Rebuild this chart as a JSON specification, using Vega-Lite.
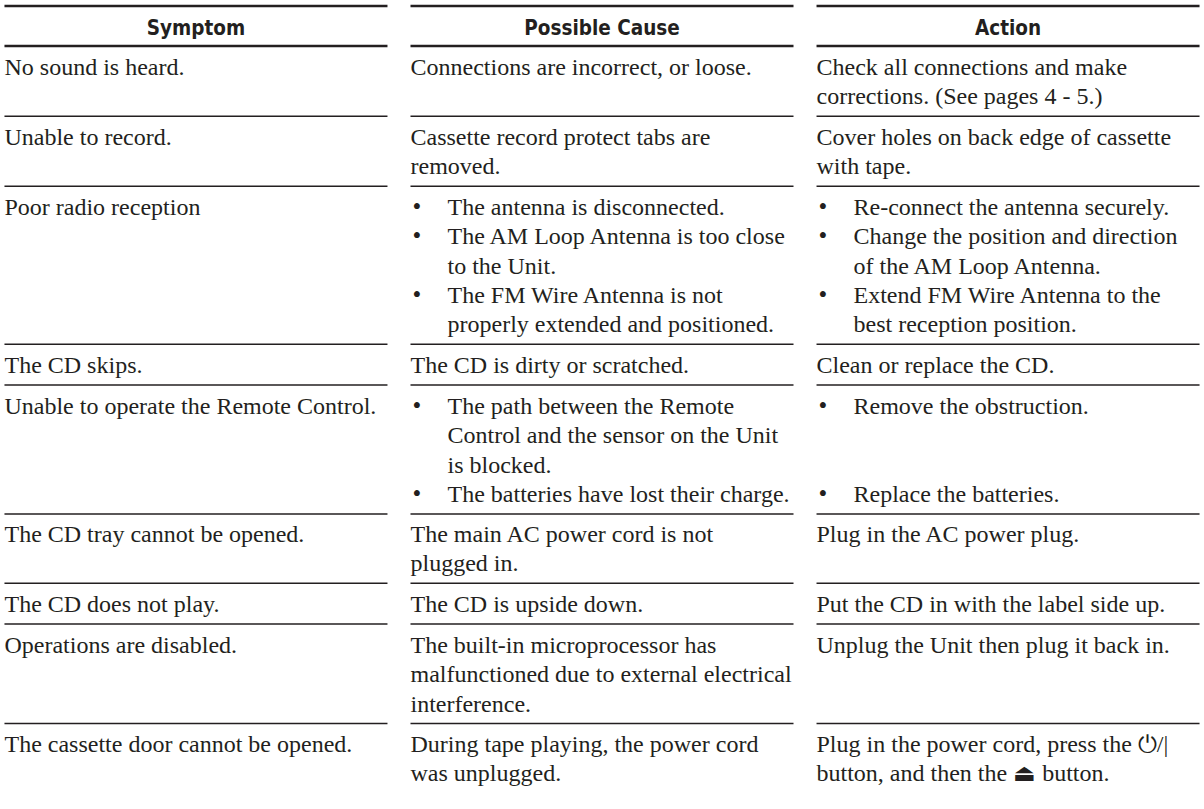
{
  "$schema": "https://vega.github.io/schema/vega-lite/v6.json",
  "padding": {"top": 4, "left": 0, "right": 0, "bottom": 0},
  "background": "white",
  "config": {"view": {"stroke": null}, "facet": {"spacing": 0}},
  "data": {"values": [
    {"row": 0, "col": "Symptom", "line": 1, "text": "Symptom"},
    {"row": 0, "col": "Possible Cause", "line": 1, "text": "Possible Cause"},
    {"row": 0, "col": "Action", "line": 1, "text": "Action"},
    {"row": 1, "col": "Symptom", "line": 1, "text": "No sound is heard."},
    {"row": 1, "col": "Possible Cause", "line": 1, "text": "Connections are incorrect, or loose."},
    {"row": 1, "col": "Action", "line": 1, "text": "Check all connections and make"},
    {"row": 1, "col": "Action", "line": 2, "text": "corrections. (See pages 4 - 5.)"},
    {"row": 2, "col": "Symptom", "line": 1, "text": "Unable to record."},
    {"row": 2, "col": "Possible Cause", "line": 1, "text": "Cassette record protect tabs are"},
    {"row": 2, "col": "Possible Cause", "line": 2, "text": "removed."},
    {"row": 2, "col": "Action", "line": 1, "text": "Cover holes on back edge of cassette"},
    {"row": 2, "col": "Action", "line": 2, "text": "with tape."},
    {"row": 3, "col": "Symptom", "line": 1, "text": "Poor radio reception"},
    {"row": 3, "col": "Possible Cause", "line": 1, "text": "The antenna is disconnected.", "list": true, "bullet": true},
    {"row": 3, "col": "Possible Cause", "line": 2, "text": "The AM Loop Antenna is too close", "list": true, "bullet": true},
    {"row": 3, "col": "Possible Cause", "line": 3, "text": "to the Unit.", "list": true},
    {"row": 3, "col": "Possible Cause", "line": 4, "text": "The FM Wire Antenna is not", "list": true, "bullet": true},
    {"row": 3, "col": "Possible Cause", "line": 5, "text": "properly extended and positioned.", "list": true},
    {"row": 3, "col": "Action", "line": 1, "text": "Re-connect the antenna securely.", "list": true, "bullet": true},
    {"row": 3, "col": "Action", "line": 2, "text": "Change the position and direction", "list": true, "bullet": true},
    {"row": 3, "col": "Action", "line": 3, "text": "of the AM Loop Antenna.", "list": true},
    {"row": 3, "col": "Action", "line": 4, "text": "Extend FM Wire Antenna to the", "list": true, "bullet": true},
    {"row": 3, "col": "Action", "line": 5, "text": "best reception position.", "list": true},
    {"row": 4, "col": "Symptom", "line": 1, "text": "The CD skips."},
    {"row": 4, "col": "Possible Cause", "line": 1, "text": "The CD is dirty or scratched."},
    {"row": 4, "col": "Action", "line": 1, "text": "Clean or replace the CD."},
    {"row": 5, "col": "Symptom", "line": 1, "text": "Unable to operate the Remote Control."},
    {"row": 5, "col": "Possible Cause", "line": 1, "text": "The path between the Remote", "list": true, "bullet": true},
    {"row": 5, "col": "Possible Cause", "line": 2, "text": "Control and the sensor on the Unit", "list": true},
    {"row": 5, "col": "Possible Cause", "line": 3, "text": "is blocked.", "list": true},
    {"row": 5, "col": "Possible Cause", "line": 4, "text": "The batteries have lost their charge.", "list": true, "bullet": true},
    {"row": 5, "col": "Action", "line": 1, "text": "Remove the obstruction.", "list": true, "bullet": true},
    {"row": 5, "col": "Action", "line": 4, "text": "Replace the batteries.", "list": true, "bullet": true},
    {"row": 6, "col": "Symptom", "line": 1, "text": "The CD tray cannot be opened."},
    {"row": 6, "col": "Possible Cause", "line": 1, "text": "The main AC power cord is not"},
    {"row": 6, "col": "Possible Cause", "line": 2, "text": "plugged in."},
    {"row": 6, "col": "Action", "line": 1, "text": "Plug in the AC power plug."},
    {"row": 7, "col": "Symptom", "line": 1, "text": "The CD does not play."},
    {"row": 7, "col": "Possible Cause", "line": 1, "text": "The CD is upside down."},
    {"row": 7, "col": "Action", "line": 1, "text": "Put the CD in with the label side up."},
    {"row": 8, "col": "Symptom", "line": 1, "text": "Operations are disabled."},
    {"row": 8, "col": "Possible Cause", "line": 1, "text": "The built-in microprocessor has"},
    {"row": 8, "col": "Possible Cause", "line": 2, "text": "malfunctioned due to external electrical"},
    {"row": 8, "col": "Possible Cause", "line": 3, "text": "interference."},
    {"row": 8, "col": "Action", "line": 1, "text": "Unplug the Unit then plug it back in."},
    {"row": 9, "col": "Symptom", "line": 1, "text": "The cassette door cannot be opened."},
    {"row": 9, "col": "Possible Cause", "line": 1, "text": "During tape playing, the power cord"},
    {"row": 9, "col": "Possible Cause", "line": 2, "text": "was unplugged."},
    {"row": 9, "col": "Action", "line": 1, "text": "Plug in the power cord, press the  \u23fb/|"},
    {"row": 9, "col": "Action", "line": 2, "text": "button, and then the \u23cf button."}
  ]},
  "facet": {"row": {"field": "row", "type": "ordinal", "header": null}},
  "resolve": {"scale": {"y": "independent"}},
  "spacing": {"row": 0},
  "bounds": "flush",
  "spec": {
    "width": 1204,
    "height": {"step": 29.3},
    "encoding": {
      "x": {"field": "col", "type": "nominal", "bandPosition": 0,
        "scale": {"domain": ["Symptom", "Possible Cause", "Action"], "paddingInner": 0.0567, "paddingOuter": 0.011},
        "axis": null},
      "y": {"field": "line", "type": "ordinal", "scale": {"type": "point", "padding": 0.6826}, "axis": null}
    },
    "layer": [
      {
        "transform": [{"filter": "datum.row == 0"}],
        "mark": {"type": "text", "align": "center", "baseline": "alphabetic", "dy": 9, "font": "DejaVu Sans Condensed, Liberation Sans Narrow, sans-serif", "fontWeight": "bold", "fontSize": 20.5, "color": "#231f20"},
        "encoding": {
          "x": {"field": "col", "type": "nominal", "bandPosition": 0.5},
          "text": {"field": "text"}
        }
      },
      {
        "transform": [{"filter": "datum.row > 0 && !datum.list"}],
        "mark": {"type": "text", "align": "left", "baseline": "alphabetic", "dy": 8, "font": "Liberation Serif", "fontSize": 24, "color": "#231f20"},
        "encoding": {"text": {"field": "text"}}
      },
      {
        "transform": [{"filter": "datum.row > 0 && datum.list"}],
        "mark": {"type": "text", "align": "left", "baseline": "alphabetic", "dy": 8, "dx": 37, "font": "Liberation Serif", "fontSize": 24, "color": "#231f20"},
        "encoding": {"text": {"field": "text"}}
      },
      {
        "transform": [{"filter": "datum.bullet"}],
        "mark": {"type": "text", "align": "left", "baseline": "alphabetic", "dy": 8, "dx": 2, "font": "Liberation Serif", "fontSize": 25, "color": "#231f20", "text": "\u2022"}
      },
      {
        "transform": [
          {"filter": "datum.row != 9"},
          {"aggregate": [{"op": "count", "as": "n"}], "groupby": ["row", "col"]}
        ],
        "mark": {"type": "rule", "color": "#231f20"},
        "encoding": {
          "y": {"value": "height"},
          "x2": {"field": "col", "bandPosition": 1},
          "strokeWidth": {"condition": {"test": "datum.row == 0", "value": 2.6}, "value": 1.5}
        }
      },
      {
        "transform": [
          {"filter": "datum.row == 0"},
          {"aggregate": [{"op": "count", "as": "n"}], "groupby": ["row", "col"]}
        ],
        "mark": {"type": "rule", "color": "#231f20", "strokeWidth": 2.6},
        "encoding": {
          "y": {"value": 0},
          "x2": {"field": "col", "bandPosition": 1}
        }
      }
    ]
  }
}
